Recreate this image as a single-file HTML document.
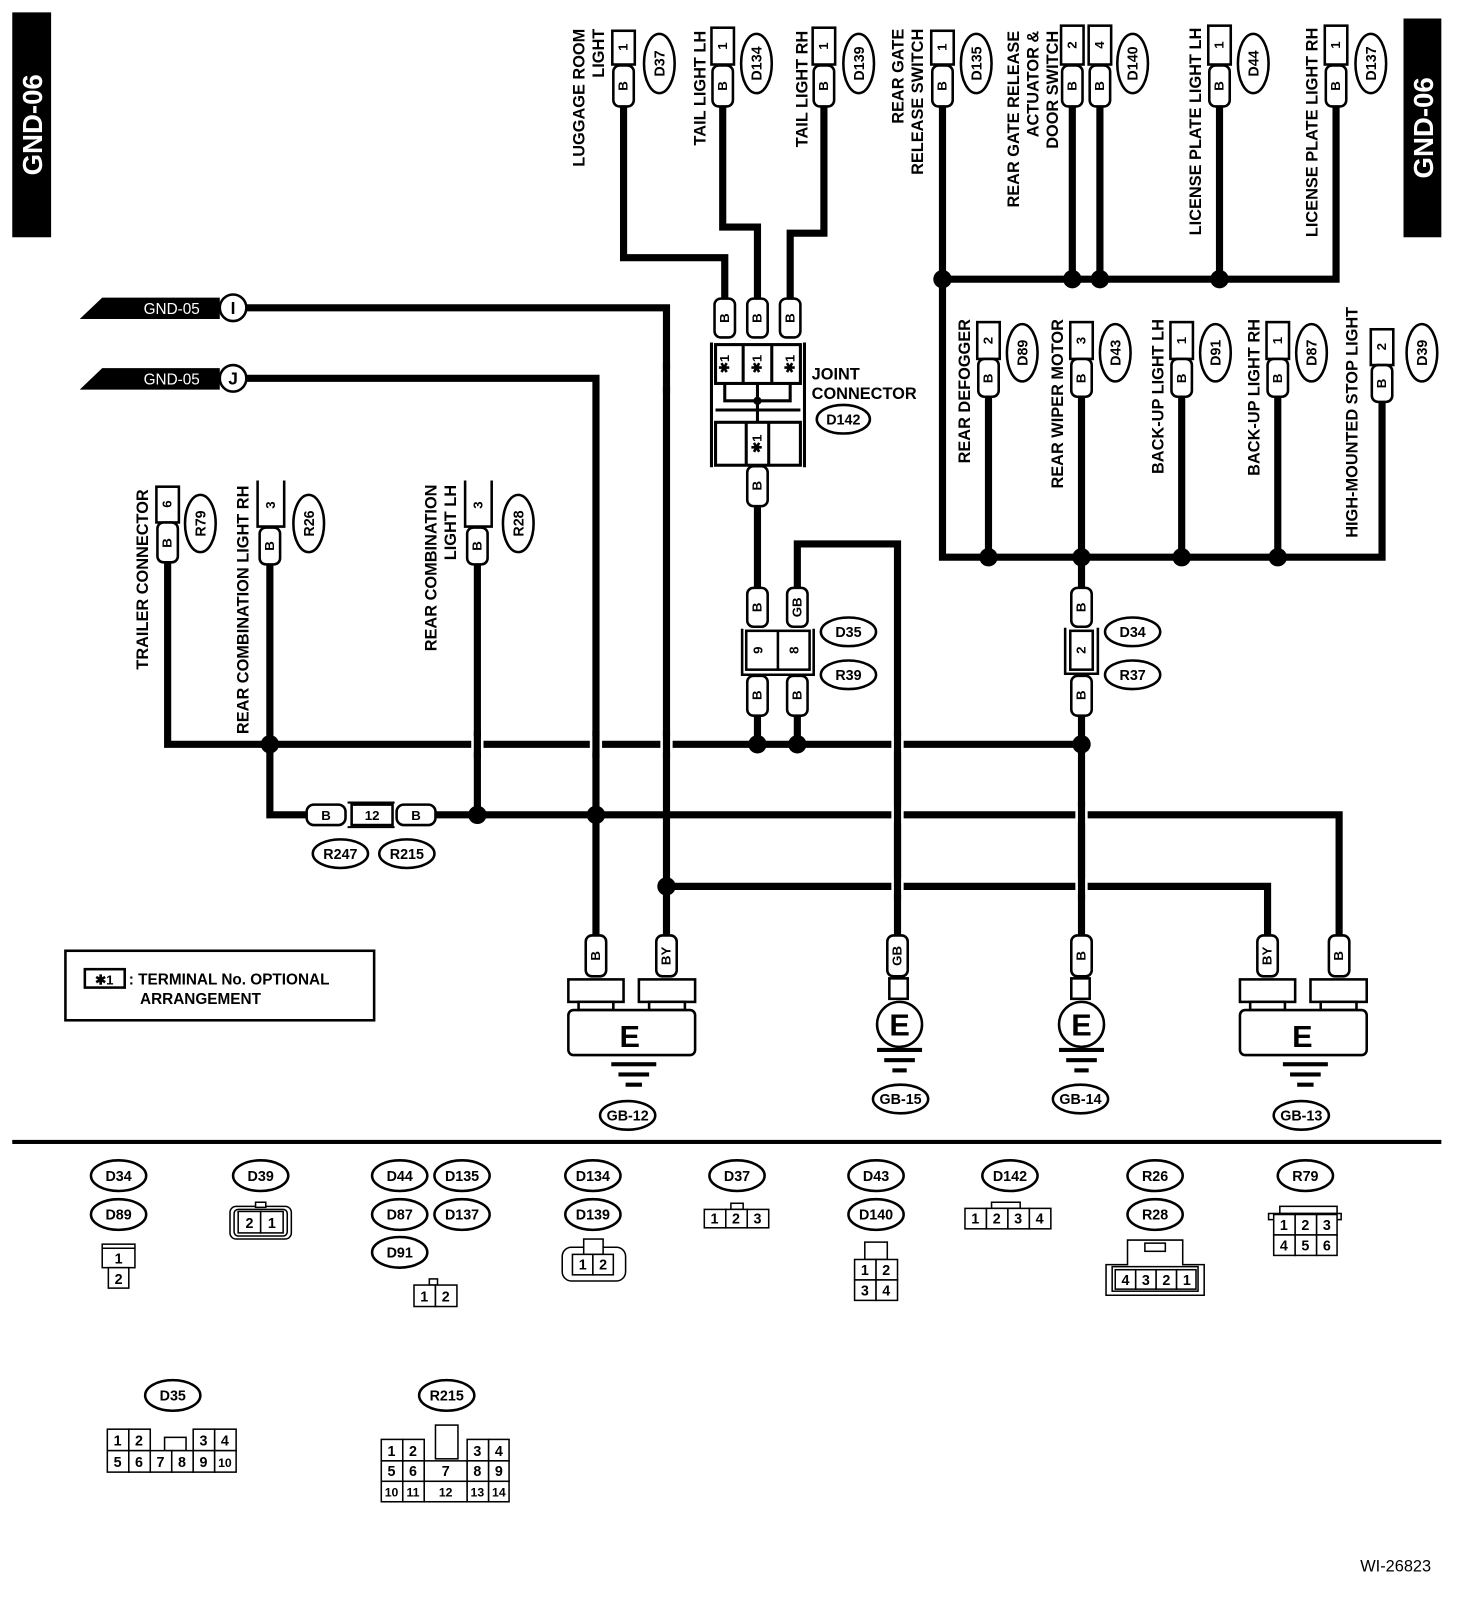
<!DOCTYPE html>
<html><head><meta charset="utf-8"><style>
html,body{margin:0;padding:0;background:#fff}
svg{display:block}
text{font-family:"Liberation Sans",Arial,sans-serif;font-weight:bold;fill:#000}
.l{font-size:16px}
.s{font-size:13px}
.n{font-size:13px;font-weight:normal}
.w{fill:none;stroke:#000;stroke-width:7;stroke-linejoin:miter}
.o{fill:#fff;stroke:#000;stroke-width:2.5}
.t{fill:#fff;stroke:#000;stroke-width:1.5}
</style></head><body>
<svg width="1472" height="1600" viewBox="0 0 1440 1565" xmlns="http://www.w3.org/2000/svg">
<rect x="12" y="12" width="38" height="220" fill="#000"/>
<text transform="translate(41,122) rotate(-90)" text-anchor="middle" style="font-size:27px;fill:#fff">GND-06</text>
<rect x="1373" y="18" width="37" height="214" fill="#000"/>
<text transform="translate(1402,125) rotate(-90)" text-anchor="middle" style="font-size:27px;fill:#fff">GND-06</text>

<g class="w">
<polyline points="610,104 610,252 709,252 709,292"/>
<polyline points="707,104 707,222 741,222 741,292"/>
<polyline points="806,104 806,228 773,228 773,292"/>
<polyline points="922,104 922,545 1352,545 1352,393"/>
<polyline points="922,273 1307,273 1307,104"/>
<line x1="1049" y1="104" x2="1049" y2="273"/>
<line x1="1076" y1="104" x2="1076" y2="273"/>
<line x1="1193" y1="104" x2="1193" y2="273"/>
<line x1="967" y1="388" x2="967" y2="545"/>
<line x1="1058" y1="388" x2="1058" y2="575"/>
<line x1="1156" y1="388" x2="1156" y2="545"/>
<line x1="1250" y1="388" x2="1250" y2="545"/>
<line x1="741" y1="495" x2="741" y2="575"/>
<polyline points="780,575 780,532 878,532 878,915"/>
<line x1="741" y1="700" x2="741" y2="728"/>
<line x1="780" y1="700" x2="780" y2="728"/>
<line x1="1058" y1="700" x2="1058" y2="915"/>
<polyline points="164,550 164,728 1058,728"/>
<polyline points="264,552 264,797 300,797"/>
<polyline points="426,797 1310,797 1310,915"/>
<line x1="467" y1="552" x2="467" y2="797"/>
<polyline points="241,301 652,301 652,915"/>
<polyline points="241,370 583,370 583,915"/>
<polyline points="652,867 1240,867 1240,915"/>
</g>
<g fill="#fff">
<rect x="461" y="720" width="12" height="16"/>
<rect x="577" y="720" width="12" height="16"/>
<rect x="646" y="720" width="12" height="16"/>
<rect x="872" y="720" width="12" height="16"/>
<rect x="872" y="789" width="12" height="16"/>
<rect x="1052" y="789" width="12" height="16"/>
<rect x="872" y="859" width="12" height="16"/>
<rect x="1052" y="859" width="12" height="16"/>
<rect x="646" y="362" width="12" height="16"/>
</g>
<g class="w">
<line x1="467" y1="715" x2="467" y2="741"/>
<line x1="583" y1="715" x2="583" y2="741"/>
<line x1="652" y1="715" x2="652" y2="741"/>
<line x1="878" y1="715" x2="878" y2="880"/>
<line x1="1058" y1="784" x2="1058" y2="880"/>
<line x1="652" y1="355" x2="652" y2="385"/>
</g>
<g fill="#000">
<circle cx="922" cy="273" r="9"/><circle cx="1049" cy="273" r="9"/><circle cx="1076" cy="273" r="9"/><circle cx="1193" cy="273" r="9"/>
<circle cx="967" cy="545" r="9"/><circle cx="1058" cy="545" r="9"/><circle cx="1156" cy="545" r="9"/><circle cx="1250" cy="545" r="9"/>
<circle cx="264" cy="728" r="9"/><circle cx="741" cy="728" r="9"/><circle cx="780" cy="728" r="9"/><circle cx="1058" cy="728" r="9"/>
<circle cx="467" cy="797" r="9"/><circle cx="583" cy="797" r="9"/><circle cx="652" cy="867" r="9"/>
</g>

<polygon points="78,312 100,291 215,291 215,312" fill="#000"/>
<text x="168" y="307" text-anchor="middle" class="n" style="fill:#fff;font-size:15px">GND-05</text>
<circle cx="228" cy="301" r="13" class="o"/><text x="228" y="307" text-anchor="middle" style="font-size:17px">I</text>
<polygon points="78,381 100,360 215,360 215,381" fill="#000"/>
<text x="168" y="376" text-anchor="middle" class="n" style="fill:#fff;font-size:15px">GND-05</text>
<circle cx="228" cy="370" r="13" class="o"/><text x="228" y="376" text-anchor="middle" style="font-size:17px">J</text>

<g class="o">
<rect x="599" y="30" width="22" height="33"/><rect x="696" y="27" width="22" height="36"/><rect x="795" y="27" width="22" height="36"/>
<rect x="911" y="30" width="22" height="33"/><rect x="1038" y="25" width="22" height="38"/><rect x="1065" y="25" width="22" height="38"/>
<rect x="1182" y="25" width="22" height="38"/><rect x="1296" y="25" width="22" height="38"/>
<rect x="956" y="315" width="22" height="36"/><rect x="1047" y="315" width="22" height="36"/><rect x="1145" y="315" width="22" height="36"/>
<rect x="1239" y="315" width="22" height="36"/><rect x="1341" y="322" width="22" height="35"/>
<rect x="153" y="476" width="22" height="35"/>
</g>
<g class="s" text-anchor="middle">
<text transform="translate(614,46) rotate(-90)">1</text><text transform="translate(711,45) rotate(-90)">1</text><text transform="translate(810,45) rotate(-90)">1</text>
<text transform="translate(926,46) rotate(-90)">1</text><text transform="translate(1053,44) rotate(-90)">2</text><text transform="translate(1080,44) rotate(-90)">4</text>
<text transform="translate(1197,44) rotate(-90)">1</text><text transform="translate(1311,44) rotate(-90)">1</text>
<text transform="translate(971,333) rotate(-90)">2</text><text transform="translate(1062,333) rotate(-90)">3</text><text transform="translate(1160,333) rotate(-90)">1</text>
<text transform="translate(1254,333) rotate(-90)">1</text><text transform="translate(1356,339) rotate(-90)">2</text>
<text transform="translate(168,493) rotate(-90)">6</text>
</g>
<g fill="none" stroke="#000" stroke-width="2.5">
<polyline points="252,470 252,515 278,515 278,470"/>
<polyline points="455,470 455,515 481,515 481,470"/>
</g>
<text transform="translate(269,494) rotate(-90)" text-anchor="middle" class="s">3</text>
<text transform="translate(472,494) rotate(-90)" text-anchor="middle" class="s">3</text>

<g class="o">
<rect x="600" y="64" width="20" height="40" rx="6"/><rect x="697" y="64" width="20" height="40" rx="6"/><rect x="796" y="64" width="20" height="40" rx="6"/>
<rect x="912" y="64" width="20" height="40" rx="6"/><rect x="1039" y="64" width="20" height="40" rx="6"/><rect x="1066" y="64" width="20" height="40" rx="6"/>
<rect x="1183" y="64" width="20" height="40" rx="6"/><rect x="1297" y="64" width="20" height="40" rx="6"/>
<rect x="957" y="351" width="20" height="37" rx="6"/><rect x="1048" y="351" width="20" height="37" rx="6"/><rect x="1146" y="351" width="20" height="37" rx="6"/>
<rect x="1240" y="351" width="20" height="37" rx="6"/><rect x="1342" y="357" width="20" height="36" rx="6"/>
<rect x="154" y="511" width="20" height="39" rx="6"/><rect x="254" y="516" width="20" height="36" rx="6"/><rect x="457" y="516" width="20" height="36" rx="6"/>
<rect x="699" y="292" width="20" height="38" rx="6"/><rect x="731" y="292" width="20" height="38" rx="6"/><rect x="763" y="292" width="20" height="38" rx="6"/>
<rect x="731" y="456" width="20" height="39" rx="6"/>
<rect x="731" y="575" width="20" height="38" rx="6"/><rect x="770" y="575" width="20" height="38" rx="6"/>
<rect x="731" y="661" width="20" height="39" rx="6"/><rect x="770" y="661" width="20" height="39" rx="6"/>
<rect x="1048" y="575" width="20" height="38" rx="6"/><rect x="1048" y="661" width="20" height="39" rx="6"/>
<rect x="573" y="915" width="20" height="40" rx="6"/><rect x="642" y="915" width="20" height="40" rx="6"/><rect x="868" y="915" width="20" height="40" rx="6"/>
<rect x="1048" y="915" width="20" height="40" rx="6"/><rect x="1230" y="915" width="20" height="40" rx="6"/><rect x="1300" y="915" width="20" height="40" rx="6"/>
<rect x="300" y="787" width="38" height="20" rx="7"/><rect x="388" y="787" width="38" height="20" rx="7"/>
</g>
<g class="s" text-anchor="middle">
<text transform="translate(614,84) rotate(-90)">B</text><text transform="translate(711,84) rotate(-90)">B</text><text transform="translate(810,84) rotate(-90)">B</text>
<text transform="translate(926,84) rotate(-90)">B</text><text transform="translate(1053,84) rotate(-90)">B</text><text transform="translate(1080,84) rotate(-90)">B</text>
<text transform="translate(1197,84) rotate(-90)">B</text><text transform="translate(1311,84) rotate(-90)">B</text>
<text transform="translate(971,370) rotate(-90)">B</text><text transform="translate(1062,370) rotate(-90)">B</text><text transform="translate(1160,370) rotate(-90)">B</text>
<text transform="translate(1254,370) rotate(-90)">B</text><text transform="translate(1356,375) rotate(-90)">B</text>
<text transform="translate(168,531) rotate(-90)">B</text><text transform="translate(268,534) rotate(-90)">B</text><text transform="translate(471,534) rotate(-90)">B</text>
<text transform="translate(713,311) rotate(-90)">B</text><text transform="translate(745,311) rotate(-90)">B</text><text transform="translate(777,311) rotate(-90)">B</text>
<text transform="translate(745,475) rotate(-90)">B</text>
<text transform="translate(745,594) rotate(-90)">B</text><text transform="translate(784,594) rotate(-90)">GB</text>
<text transform="translate(745,680) rotate(-90)">B</text><text transform="translate(784,680) rotate(-90)">B</text>
<text transform="translate(1062,594) rotate(-90)">B</text><text transform="translate(1062,680) rotate(-90)">B</text>
<text transform="translate(587,935) rotate(-90)">B</text><text transform="translate(656,935) rotate(-90)">BY</text><text transform="translate(882,935) rotate(-90)">GB</text>
<text transform="translate(1062,935) rotate(-90)">B</text><text transform="translate(1244,935) rotate(-90)">BY</text><text transform="translate(1314,935) rotate(-90)">B</text>
<text x="319" y="802">B</text><text x="407" y="802">B</text>
</g>
<path d="M340,785 H386 M340,809 H386" stroke="#000" stroke-width="2"/>
<rect x="344" y="787" width="40" height="20" class="o"/>
<text x="364" y="802" text-anchor="middle" class="s">12</text>

<g fill="none" stroke="#000" stroke-width="3">
<line x1="696" y1="335" x2="696" y2="457"/><line x1="787" y1="335" x2="787" y2="457"/>
<rect x="700" y="337" width="83" height="38"/>
<line x1="727" y1="337" x2="727" y2="375"/><line x1="755" y1="337" x2="755" y2="375"/>
<line x1="700" y1="401" x2="783" y2="401"/>
<rect x="700" y="413" width="83" height="42"/>
<line x1="730" y1="413" x2="730" y2="455"/><line x1="752" y1="413" x2="752" y2="455"/>
<polyline points="709,375 709,392 773,392 773,375"/>
<line x1="741" y1="375" x2="741" y2="413"/>
</g>
<circle cx="741" cy="392" r="4" fill="#000"/>
<g class="s" text-anchor="middle">
<text transform="translate(713,356) rotate(-90)">✱1</text><text transform="translate(745,356) rotate(-90)">✱1</text><text transform="translate(777,356) rotate(-90)">✱1</text>
<text transform="translate(745,434) rotate(-90)">✱1</text>
</g>
<text x="794" y="371" class="l">JOINT</text>
<text x="794" y="390" class="l">CONNECTOR</text>

<g fill="none" stroke="#000" stroke-width="2.5">
<rect x="730" y="617" width="62" height="38"/><line x1="761" y1="617" x2="761" y2="655"/>
<polyline points="726,615 726,660 796,660 796,615"/>
</g>
<text transform="translate(746,636) rotate(-90)" text-anchor="middle" class="s">9</text>
<text transform="translate(781,636) rotate(-90)" text-anchor="middle" class="s">8</text>
<g fill="none" stroke="#000" stroke-width="2.5">
<rect x="1047" y="617" width="22" height="38"/>
<polyline points="1042,614 1042,659 1074,659 1074,614"/>
</g>
<text transform="translate(1062,636) rotate(-90)" text-anchor="middle" class="s">2</text>

<g class="o">
<ellipse cx="645" cy="62" rx="15" ry="29"/><ellipse cx="740" cy="62" rx="15" ry="29"/><ellipse cx="840" cy="62" rx="15" ry="29"/>
<ellipse cx="955" cy="62" rx="15" ry="29"/><ellipse cx="1108" cy="62" rx="15" ry="29"/><ellipse cx="1226" cy="62" rx="15" ry="29"/><ellipse cx="1341" cy="62" rx="15" ry="29"/>
<ellipse cx="1000" cy="345" rx="15" ry="28"/><ellipse cx="1091" cy="345" rx="15" ry="28"/><ellipse cx="1189" cy="345" rx="15" ry="28"/><ellipse cx="1283" cy="345" rx="15" ry="28"/><ellipse cx="1391" cy="345" rx="15" ry="28"/>
<ellipse cx="196" cy="512" rx="15" ry="28"/><ellipse cx="302" cy="512" rx="15" ry="28"/><ellipse cx="507" cy="512" rx="15" ry="28"/>
</g>
<g class="s" text-anchor="middle" style="font-size:14px">
<text transform="translate(650,62) rotate(-90)">D37</text><text transform="translate(745,62) rotate(-90)">D134</text><text transform="translate(845,62) rotate(-90)">D139</text>
<text transform="translate(960,62) rotate(-90)">D135</text><text transform="translate(1113,62) rotate(-90)">D140</text><text transform="translate(1231,62) rotate(-90)">D44</text><text transform="translate(1346,62) rotate(-90)">D137</text>
<text transform="translate(1005,345) rotate(-90)">D89</text><text transform="translate(1096,345) rotate(-90)">D43</text><text transform="translate(1194,345) rotate(-90)">D91</text><text transform="translate(1288,345) rotate(-90)">D87</text><text transform="translate(1396,345) rotate(-90)">D39</text>
<text transform="translate(201,512) rotate(-90)">R79</text><text transform="translate(307,512) rotate(-90)">R26</text><text transform="translate(512,512) rotate(-90)">R28</text>
</g>

<g class="o">
<ellipse cx="825" cy="410" rx="26" ry="14"/>
<ellipse cx="830" cy="618" rx="27" ry="14"/><ellipse cx="830" cy="660" rx="27" ry="14"/>
<ellipse cx="1108" cy="618" rx="27" ry="14"/><ellipse cx="1108" cy="660" rx="27" ry="14"/>
<ellipse cx="333" cy="835" rx="27" ry="14"/><ellipse cx="398" cy="835" rx="27" ry="14"/>
<ellipse cx="614" cy="1091" rx="27" ry="14"/><ellipse cx="881" cy="1075" rx="27" ry="14"/><ellipse cx="1057" cy="1075" rx="27" ry="14"/><ellipse cx="1273" cy="1091" rx="27" ry="14"/>
<ellipse cx="116" cy="1150" rx="27" ry="15"/><ellipse cx="116" cy="1188" rx="27" ry="15"/><ellipse cx="255" cy="1150" rx="27" ry="15"/>
<ellipse cx="391" cy="1150" rx="27" ry="15"/><ellipse cx="452" cy="1150" rx="27" ry="15"/><ellipse cx="391" cy="1188" rx="27" ry="15"/><ellipse cx="452" cy="1188" rx="27" ry="15"/><ellipse cx="391" cy="1225" rx="27" ry="15"/>
<ellipse cx="580" cy="1150" rx="27" ry="15"/><ellipse cx="580" cy="1188" rx="27" ry="15"/><ellipse cx="721" cy="1150" rx="27" ry="15"/>
<ellipse cx="857" cy="1150" rx="27" ry="15"/><ellipse cx="857" cy="1188" rx="27" ry="15"/><ellipse cx="988" cy="1150" rx="27" ry="15"/>
<ellipse cx="1130" cy="1150" rx="27" ry="15"/><ellipse cx="1130" cy="1188" rx="27" ry="15"/><ellipse cx="1277" cy="1150" rx="27" ry="15"/>
<ellipse cx="169" cy="1365" rx="27" ry="15"/><ellipse cx="437" cy="1365" rx="27" ry="15"/>
</g>
<g class="s" text-anchor="middle" style="font-size:14px">
<text x="825" y="415">D142</text>
<text x="830" y="623">D35</text><text x="830" y="665">R39</text><text x="1108" y="623">D34</text><text x="1108" y="665">R37</text>
<text x="333" y="840">R247</text><text x="398" y="840">R215</text>
<text x="614" y="1096">GB-12</text><text x="881" y="1080">GB-15</text><text x="1057" y="1080">GB-14</text><text x="1273" y="1096">GB-13</text>
<text x="116" y="1155">D34</text><text x="116" y="1193">D89</text><text x="255" y="1155">D39</text>
<text x="391" y="1155">D44</text><text x="452" y="1155">D135</text><text x="391" y="1193">D87</text><text x="452" y="1193">D137</text><text x="391" y="1230">D91</text>
<text x="580" y="1155">D134</text><text x="580" y="1193">D139</text><text x="721" y="1155">D37</text>
<text x="857" y="1155">D43</text><text x="857" y="1193">D140</text><text x="988" y="1155">D142</text>
<text x="1130" y="1155">R26</text><text x="1130" y="1193">R28</text><text x="1277" y="1155">R79</text>
<text x="169" y="1370">D35</text><text x="437" y="1370">R215</text>
</g>

<g class="l" text-anchor="end">
<text transform="translate(572,28) rotate(-90)">LUGGAGE ROOM</text><text transform="translate(591,28) rotate(-90)">LIGHT</text>
<text transform="translate(690,30) rotate(-90)">TAIL LIGHT LH</text>
<text transform="translate(790,30) rotate(-90)">TAIL LIGHT RH</text>
<text transform="translate(884,28) rotate(-90)">REAR GATE</text><text transform="translate(903,28) rotate(-90)">RELEASE SWITCH</text>
<text transform="translate(997,30) rotate(-90)">REAR GATE RELEASE</text><text transform="translate(1016,30) rotate(-90)">ACTUATOR &amp;</text><text transform="translate(1035,30) rotate(-90)">DOOR SWITCH</text>
<text transform="translate(1175,27) rotate(-90)">LICENSE PLATE LIGHT LH</text>
<text transform="translate(1289,27) rotate(-90)">LICENSE PLATE LIGHT RH</text>
<text transform="translate(949,312) rotate(-90)">REAR DEFOGGER</text>
<text transform="translate(1040,312) rotate(-90)">REAR WIPER MOTOR</text>
<text transform="translate(1138,312) rotate(-90)">BACK-UP LIGHT LH</text>
<text transform="translate(1232,312) rotate(-90)">BACK-UP LIGHT RH</text>
</g>
<g class="l" text-anchor="start">
<text transform="translate(1328,526) rotate(-90)">HIGH-MOUNTED STOP LIGHT</text>
<text transform="translate(145,655) rotate(-90)">TRAILER CONNECTOR</text>
<text transform="translate(243,718) rotate(-90)">REAR COMBINATION LIGHT RH</text>
<text transform="translate(427,637) rotate(-90)">REAR COMBINATION</text>
<text transform="translate(446,548) rotate(-90)">LIGHT LH</text>
</g>

<g class="o">
<rect x="556" y="958" width="54" height="22"/><rect x="625" y="958" width="55" height="22"/>
<path d="M566,980 h34 v8 h-34z M635,980 h35 v8 h-35z"/>
<rect x="556" y="988" width="124" height="44" rx="5"/>
<rect x="1213" y="958" width="54" height="22"/><rect x="1282" y="958" width="55" height="22"/>
<path d="M1223,980 h34 v8 h-34z M1292,980 h35 v8 h-35z"/>
<rect x="1213" y="988" width="124" height="44" rx="5"/>
<rect x="870" y="957" width="18" height="20"/><circle cx="880" cy="1002" r="22"/>
<rect x="1048" y="957" width="18" height="20"/><circle cx="1058" cy="1002" r="22"/>
</g>
<g text-anchor="middle" style="font-size:30px">
<text x="616" y="1024">E</text><text x="1274" y="1024">E</text>
<text x="880" y="1013">E</text><text x="1058" y="1013">E</text>
</g>
<g fill="#000">
<rect x="598" y="1039" width="44" height="4"/><rect x="605" y="1049" width="30" height="4"/><rect x="612" y="1059" width="16" height="4"/>
<rect x="1255" y="1039" width="44" height="4"/><rect x="1262" y="1049" width="30" height="4"/><rect x="1269" y="1059" width="16" height="4"/>
<rect x="858" y="1025" width="44" height="4"/><rect x="865" y="1035" width="30" height="4"/><rect x="873" y="1045" width="14" height="4"/>
<rect x="1036" y="1025" width="44" height="4"/><rect x="1043" y="1035" width="30" height="4"/><rect x="1051" y="1045" width="14" height="4"/>
</g>

<rect x="64" y="930" width="302" height="68" fill="none" stroke="#000" stroke-width="2.5"/>
<rect x="83" y="948" width="39" height="18" fill="none" stroke="#000" stroke-width="2.5"/>
<text x="102" y="963" text-anchor="middle" class="s">✱1</text>
<text x="126" y="963" class="l" style="font-size:15px">: TERMINAL No. OPTIONAL</text>
<text x="137" y="982" class="l" style="font-size:15px">ARRANGEMENT</text>

<rect x="12" y="1115" width="1398" height="4" fill="#000"/>

<g class="t">
<rect x="100" y="1217" width="32" height="23"/><line x1="100" y1="1221" x2="132" y2="1221"/>
<rect x="106" y="1240" width="20" height="20"/>
<rect x="225" y="1180" width="60" height="32" rx="6"/><rect x="229" y="1183" width="52" height="26" rx="4"/>
<rect x="250" y="1176" width="10" height="5"/>
<rect x="233" y="1185" width="22" height="21"/><rect x="255" y="1185" width="22" height="21"/>
<rect x="420" y="1251" width="8" height="6"/>
<rect x="405" y="1257" width="21" height="21"/><rect x="426" y="1257" width="21" height="21"/>
<rect x="550" y="1220" width="62" height="33" rx="9"/>
<rect x="571" y="1212" width="19" height="15"/>
<rect x="560" y="1227" width="20" height="20"/><rect x="580" y="1227" width="20" height="20"/>
<rect x="715" y="1177" width="12" height="6"/>
<rect x="689" y="1183" width="21" height="18"/><rect x="710" y="1183" width="21" height="18"/><rect x="731" y="1183" width="21" height="18"/>
<rect x="846" y="1215" width="22" height="17"/>
<rect x="836" y="1232" width="21" height="20"/><rect x="857" y="1232" width="21" height="20"/>
<rect x="836" y="1252" width="21" height="20"/><rect x="857" y="1252" width="21" height="20"/>
<rect x="970" y="1176" width="28" height="6"/>
<rect x="944" y="1182" width="21" height="20"/><rect x="965" y="1182" width="21" height="20"/><rect x="986" y="1182" width="21" height="20"/><rect x="1007" y="1182" width="21" height="20"/>
<path d="M1103,1237 V1213 H1157 V1237 H1178 V1267 H1082 V1237 Z"/>
<rect x="1120" y="1216" width="20" height="8"/>
<rect x="1088" y="1239" width="84" height="24"/>
<rect x="1091" y="1242" width="20" height="19"/><rect x="1111" y="1242" width="20" height="19"/><rect x="1131" y="1242" width="20" height="19"/><rect x="1151" y="1242" width="19" height="19"/>
<rect x="1252" y="1180" width="56" height="7"/><rect x="1241" y="1187" width="71" height="6"/>
<rect x="1246" y="1188" width="21" height="20"/><rect x="1267" y="1188" width="21" height="20"/><rect x="1288" y="1188" width="20" height="20"/>
<rect x="1246" y="1208" width="21" height="20"/><rect x="1267" y="1208" width="21" height="20"/><rect x="1288" y="1208" width="20" height="20"/>
<rect x="105" y="1398" width="21" height="21"/><rect x="126" y="1398" width="21" height="21"/>
<rect x="161" y="1406" width="21" height="13"/>
<rect x="189" y="1398" width="21" height="21"/><rect x="210" y="1398" width="21" height="21"/>
<rect x="105" y="1419" width="21" height="21"/><rect x="126" y="1419" width="21" height="21"/><rect x="147" y="1419" width="21" height="21"/><rect x="168" y="1419" width="21" height="21"/><rect x="189" y="1419" width="21" height="21"/><rect x="210" y="1419" width="21" height="21"/>
<rect x="426" y="1394" width="22" height="33"/>
<rect x="373" y="1408" width="21" height="21"/><rect x="394" y="1408" width="21" height="21"/>
<rect x="457" y="1408" width="21" height="21"/><rect x="478" y="1408" width="20" height="21"/>
<rect x="373" y="1429" width="21" height="20"/><rect x="394" y="1429" width="21" height="20"/><rect x="415" y="1429" width="42" height="20"/><rect x="457" y="1429" width="21" height="20"/><rect x="478" y="1429" width="20" height="20"/>
<rect x="373" y="1449" width="21" height="20"/><rect x="394" y="1449" width="21" height="20"/><rect x="415" y="1449" width="42" height="20"/><rect x="457" y="1449" width="21" height="20"/><rect x="478" y="1449" width="20" height="20"/>
</g>
<g class="n" text-anchor="middle" style="font-size:14px">
<text x="116" y="1236">1</text><text x="116" y="1256">2</text>
<text x="244" y="1201">2</text><text x="266" y="1201">1</text>
<text x="415" y="1273">1</text><text x="436" y="1273">2</text>
<text x="570" y="1242">1</text><text x="590" y="1242">2</text>
<text x="699" y="1197">1</text><text x="720" y="1197">2</text><text x="741" y="1197">3</text>
<text x="846" y="1247">1</text><text x="867" y="1247">2</text><text x="846" y="1267">3</text><text x="867" y="1267">4</text>
<text x="954" y="1197">1</text><text x="975" y="1197">2</text><text x="996" y="1197">3</text><text x="1017" y="1197">4</text>
<text x="1101" y="1257">4</text><text x="1121" y="1257">3</text><text x="1141" y="1257">2</text><text x="1161" y="1257">1</text>
<text x="1256" y="1203">1</text><text x="1277" y="1203">2</text><text x="1298" y="1203">3</text>
<text x="1256" y="1223">4</text><text x="1277" y="1223">5</text><text x="1298" y="1223">6</text>
<text x="115" y="1414">1</text><text x="136" y="1414">2</text><text x="199" y="1414">3</text><text x="220" y="1414">4</text>
<text x="115" y="1435">5</text><text x="136" y="1435">6</text><text x="157" y="1435">7</text><text x="178" y="1435">8</text><text x="199" y="1435">9</text><text x="220" y="1435" style="font-size:12px">10</text>
<text x="383" y="1424">1</text><text x="404" y="1424">2</text><text x="467" y="1424">3</text><text x="488" y="1424">4</text>
<text x="383" y="1444">5</text><text x="404" y="1444">6</text><text x="436" y="1444">7</text><text x="467" y="1444">8</text><text x="488" y="1444">9</text>
<text x="383" y="1464" style="font-size:12px">10</text><text x="404" y="1464" style="font-size:12px">11</text><text x="436" y="1464" style="font-size:12px">12</text><text x="467" y="1464" style="font-size:12px">13</text><text x="488" y="1464" style="font-size:12px">14</text>
</g>

<text x="1400" y="1537" text-anchor="end" class="n" style="font-size:16px">WI-26823</text>
</svg>
</body></html>
